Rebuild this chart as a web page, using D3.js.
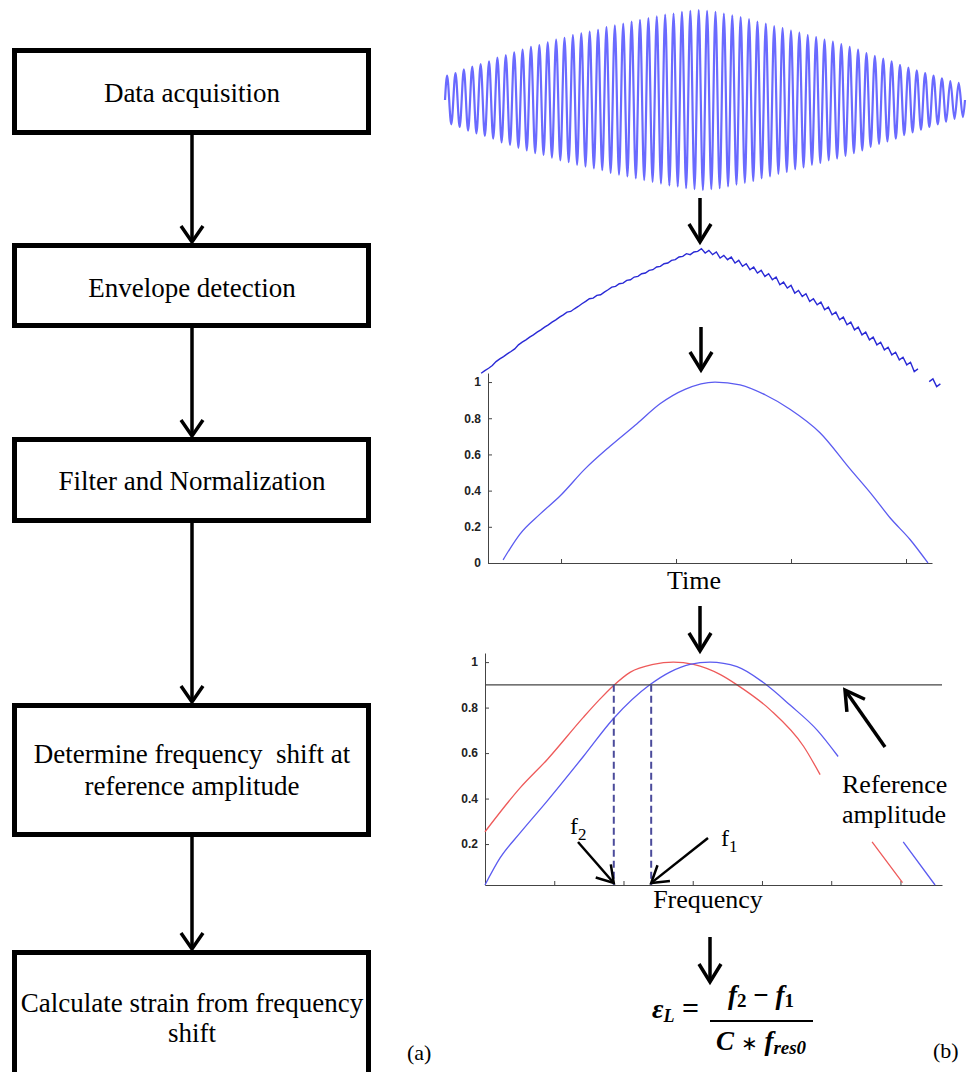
<!DOCTYPE html>
<html>
<head>
<meta charset="utf-8">
<script src="https://cdn.jsdelivr.net/npm/d3@7"></script>
<style>
  body { margin: 0; background: #fff; }
  svg { display: block; }
</style>
</head>
<body>
<div id="area"></div>
<script>
// ---- data -------------------------------------------------------------
var steps = [
  ["Data acquisition"],
  ["Envelope detection"],
  ["Filter and Normalization"],
  ["Determine frequency  shift at", "reference amplitude"],
  ["Calculate strain from frequency", "shift"]
];

// raw sensor signal: peak amplitude of each carrier cycle (normalised)
var carrierPeaks = [
  0.27, 0.30, 0.34, 0.37, 0.40, 0.43, 0.47, 0.50, 0.53, 0.56,
  0.59, 0.61, 0.64, 0.67, 0.69, 0.72, 0.74, 0.76, 0.78, 0.81,
  0.83, 0.85, 0.87, 0.89, 0.91, 0.93, 0.95, 0.96, 0.98, 0.99,
  1.00, 0.99, 0.98, 0.96, 0.94, 0.92, 0.90, 0.87, 0.85, 0.82,
  0.80, 0.77, 0.75, 0.72, 0.70, 0.67, 0.65, 0.62, 0.59, 0.56,
  0.52, 0.49, 0.46, 0.43, 0.39, 0.36, 0.33, 0.30, 0.27, 0.24,
  0.21, 0.19
];

// envelope detector output, one level per cycle (null = break in trace)
var envelopeLevel = [
  0.27, 0.30, 0.34, 0.37, 0.40, 0.44, 0.47, 0.50, 0.53, 0.56,
  0.59, 0.62, 0.64, 0.67, 0.70, 0.72, 0.74, 0.77, 0.79, 0.81,
  0.83, 0.85, 0.87, 0.89, 0.91, 0.93, 0.95, 0.97, 0.98, 1.00,
  0.99, 0.98, 0.96, 0.95, 0.93, 0.91, 0.89, 0.87, 0.85, 0.83,
  0.80, 0.78, 0.75, 0.73, 0.70, 0.68, 0.65, 0.62, 0.59, 0.56,
  0.53, 0.50, 0.47, 0.44, 0.41, 0.38, 0.35, 0.32, 0.28, null,
  0.22, 0.19
];
var rippleDepth = 0.008;

// filtered + normalised envelope
var filtTime = [496, 557, 643, 817, 991, 1209, 1426, 1661, 1861, 2078,
                2339, 2557, 2774, 2991, 3252, 3513, 3713, 3861, 4035, 4191];
var filtAmp  = [0.017, 0.08, 0.16, 0.27, 0.37, 0.52, 0.645, 0.77, 0.88, 0.96,
                1.00, 0.985, 0.93, 0.85, 0.72, 0.52, 0.37, 0.25, 0.13, 0.0];
var timeTicks = [1000, 2000, 3000, 4000];
var timeAmpTicks = [0, 0.2, 0.4, 0.6, 0.8, 1];

// frequency response: blue = reference (f1), red = strained (f2)
var freqBlue = [0, 0.22, 0.51, 0.90, 1.42, 1.85, 2.38, 2.67, 2.96, 3.25,
                3.64, 4.02, 4.41, 4.80, 5.10, 5.60, 6.04, 6.50];
var ampBlue  = [0.02, 0.14, 0.25, 0.39, 0.585, 0.75, 0.90, 0.956, 0.99, 1.00,
                0.98, 0.91, 0.81, 0.70, 0.585, null, 0.21, 0.02];
var freqRed  = [0, 0.51, 0.90, 1.42, 1.66, 1.85, 2.10, 2.43, 2.72, 3.01,
                3.40, 3.64, 4.12, 4.60, 4.84, 5.20, 5.59, 6.03];
var ampRed   = [0.254, 0.448, 0.572, 0.757, 0.837, 0.895, 0.956, 0.99, 1.00, 0.99,
                0.945, 0.90, 0.79, 0.63, 0.505, null, 0.21, 0.03];
var freqTicks = [1, 2, 3, 4, 5, 6];
var freqAmpTicks = [0.2, 0.4, 0.6, 0.8, 1];
var refAmplitude = 0.9;
var shiftFreqs = [1.86, 2.40];   // f2, f1 at the reference amplitude

// ---- drawing ----------------------------------------------------------
var svg = d3.select("#area").append("svg")
  .attr("width", 967)
  .attr("height", 1072);

var serif = "'Liberation Serif', 'Times New Roman', serif";

function arrow(g, x1, y1, x2, y2, w, head, half) {
  var dx = x2 - x1, dy = y2 - y1, len = Math.sqrt(dx * dx + dy * dy);
  var ux = dx / len, uy = dy / len;
  var bx = x2 - ux * head, by = y2 - uy * head;
  g.append("line")
    .attr("x1", x1).attr("y1", y1).attr("x2", x2 - ux * 1).attr("y2", y2 - uy * 1)
    .attr("stroke", "#000").attr("stroke-width", w);
  g.append("path")
    .attr("d", d3.line()([[bx - uy * half, by + ux * half], [x2, y2], [bx + uy * half, by - ux * half]]))
    .attr("fill", "none")
    .attr("stroke", "#000")
    .attr("stroke-width", w)
    .attr("stroke-linejoin", "miter");
}

// (a) flowchart
var boxTop = [48, 243, 437, 703, 950],
  boxBottom = [135, 328, 523, 837, 1110],
  textBase = [[102], [297], [490], [763, 795], [1012, 1042]];
var flow = svg.append("g");

flow.selectAll("rect")
  .data(steps)
  .enter()
  .append("rect")
  .attr("x", 14.5)
  .attr("y", function (d, i) { return boxTop[i] + 2.5; })
  .attr("width", 354)
  .attr("height", function (d, i) { return boxBottom[i] - boxTop[i] - 5; })
  .attr("fill", "none")
  .attr("stroke", "#000")
  .attr("stroke-width", 5);

steps.forEach(function (lines, i) {
  lines.forEach(function (t, j) {
    flow.append("text")
      .attr("x", 192)
      .attr("y", textBase[i][j])
      .attr("text-anchor", "middle")
      .style("font-family", serif)
      .style("font-size", "27px")
      .style("white-space", "pre")
      .text(t);
  });
  if (i < steps.length - 1) {
    arrow(flow, 192, boxBottom[i], 192, boxTop[i + 1] - 1, 3.5, 16, 11);
  }
});

flow.append("text")
  .attr("x", 407).attr("y", 1060)
  .style("font-family", serif).style("font-size", "22px")
  .text("(a)");

// (b) processing chain
var right = svg.append("g");

// raw signal
var xRaw = d3.scaleLinear().domain([0, carrierPeaks.length]).range([445, 965]);
var yRaw = d3.scaleLinear().domain([-1, 1]).range([190, 10]);
var rawPts = [[0, 0]];
carrierPeaks.forEach(function (a, i) {
  rawPts.push([i + 0.25, a]);
  rawPts.push([i + 0.75, -a]);
});
rawPts.push([carrierPeaks.length, 0]);
right.append("path")
  .attr("d", d3.line()
    .x(function (d) { return xRaw(d[0]); })
    .y(function (d) { return yRaw(d[1]); })
    .curve(d3.curveMonotoneX)(rawPts))
  .attr("fill", "none")
  .attr("stroke", "#6a6aff")
  .attr("stroke-width", 2.2);

arrow(right, 700, 198, 700, 242, 3.5, 18, 11);

// envelope
var xEnv = d3.scaleLinear().domain([0, envelopeLevel.length]).range([480, 943]);
var yEnv = d3.scaleLinear().domain([0, 1]).range([417, 250]);
var envPts = [];
envelopeLevel.forEach(function (v, i) {
  if (v === null) { envPts.push([i + 0.5, null]); return; }
  envPts.push([i + 0.15, v - rippleDepth]);
  envPts.push([i + 0.65, v + rippleDepth]);
});
right.append("path")
  .attr("d", d3.line()
    .defined(function (d) { return d[1] !== null; })
    .x(function (d) { return xEnv(d[0]); })
    .y(function (d) { return yEnv(d[1]); })(envPts))
  .attr("fill", "none")
  .attr("stroke", "#2a2ad6")
  .attr("stroke-width", 1.4);

arrow(right, 701, 327, 701, 370, 3.5, 18, 11);

// filtered / normalised plot
var xT = d3.scaleLinear().domain([365, 4226]).range([488, 932]);
var yT = d3.scaleLinear().domain([0, 1.05]).range([563, 373]);

function styleAxis(g) {
  g.select(".domain").attr("stroke", "#444");
  g.selectAll(".tick line").attr("stroke", "#444");
  g.selectAll(".tick text")
    .attr("fill", "#222")
    .style("font-family", "'Liberation Sans', Arial, sans-serif")
    .style("font-size", "12px")
    .style("font-weight", "bold");
}

right.append("g")
  .attr("transform", "translate(0,563)")
  .call(d3.axisBottom(xT).tickValues(timeTicks).tickSizeInner(-4).tickSizeOuter(0).tickFormat(""))
  .call(styleAxis);
right.append("g")
  .attr("transform", "translate(488,0)")
  .call(d3.axisLeft(yT).tickValues(timeAmpTicks).tickSizeInner(-4).tickSizeOuter(0).tickPadding(7)
    .tickFormat(function (d) { return String(d); }))
  .call(styleAxis);

right.append("path")
  .attr("d", d3.line()
    .x(function (d, i) { return xT(filtTime[i]); })
    .y(function (d) { return yT(d); })
    .curve(d3.curveMonotoneX)(filtAmp))
  .attr("fill", "none")
  .attr("stroke", "#5b5bf0")
  .attr("stroke-width", 1.3);

right.append("text")
  .attr("x", 694).attr("y", 589)
  .attr("text-anchor", "middle")
  .style("font-family", serif).style("font-size", "26px")
  .text("Time");

arrow(right, 700, 606, 700, 651, 3.5, 18, 11);

// frequency plot
var xF = d3.scaleLinear().domain([0, 6.6]).range([485, 942]);
var yF = d3.scaleLinear().domain([0.02, 1.04]).range([885, 653]);

right.append("g")
  .attr("transform", "translate(0,885)")
  .call(d3.axisBottom(xF).tickValues(freqTicks).tickSizeInner(-4).tickSizeOuter(0).tickFormat(""))
  .call(styleAxis);
right.append("g")
  .attr("transform", "translate(485,0)")
  .call(d3.axisLeft(yF).tickValues(freqAmpTicks).tickSizeInner(-4).tickSizeOuter(0).tickPadding(7)
    .tickFormat(function (d) { return String(d); }))
  .call(styleAxis);

var freqLine = function (xs) {
  return d3.line()
    .defined(function (d) { return d !== null; })
    .x(function (d, i) { return xF(xs[i]); })
    .y(function (d) { return yF(d); })
    .curve(d3.curveMonotoneX);
};
right.append("path")
  .attr("d", freqLine(freqRed)(ampRed))
  .attr("fill", "none").attr("stroke", "#ee5a5a").attr("stroke-width", 1.3);
right.append("path")
  .attr("d", freqLine(freqBlue)(ampBlue))
  .attr("fill", "none").attr("stroke", "#5b5bf0").attr("stroke-width", 1.3);

// reference amplitude line
right.append("line")
  .attr("x1", xF(0)).attr("x2", xF(6.6))
  .attr("y1", yF(refAmplitude)).attr("y2", yF(refAmplitude))
  .attr("stroke", "#444").attr("stroke-width", 1.3);

right.selectAll(".shift")
  .data(shiftFreqs)
  .enter()
  .append("line")
  .attr("class", "shift")
  .attr("x1", function (d) { return xF(d); })
  .attr("x2", function (d) { return xF(d); })
  .attr("y1", yF(refAmplitude))
  .attr("y2", 885)
  .attr("stroke", "#4b4b9b")
  .attr("stroke-width", 2)
  .attr("stroke-dasharray", "7,4");

// f labels with arrows
function fLabel(x, y, sub) {
  var t = right.append("text")
    .attr("x", x).attr("y", y)
    .style("font-family", serif).style("font-size", "24px");
  t.append("tspan").text("f");
  t.append("tspan").attr("dy", 6).style("font-size", "17px").text(sub);
}
fLabel(570, 834, "2");
fLabel(721, 846, "1");
arrow(right, 578, 842, xF(shiftFreqs[0]), 883, 2.5, 16, 10);
arrow(right, 708, 838, xF(shiftFreqs[1]), 883, 2.5, 16, 10);

right.append("text")
  .attr("x", 842).attr("y", 793)
  .style("font-family", serif).style("font-size", "26px")
  .text("Reference");
right.append("text")
  .attr("x", 842).attr("y", 823)
  .style("font-family", serif).style("font-size", "26px")
  .text("amplitude");
arrow(right, 885, 747, 845, 690, 3.5, 19, 11);

right.append("text")
  .attr("x", 708).attr("y", 908)
  .attr("text-anchor", "middle")
  .style("font-family", serif).style("font-size", "26px")
  .text("Frequency");

arrow(right, 710, 937, 710, 982, 3.5, 18, 11);

// strain formula
var fm = right.append("g")
  .style("font-family", serif)
  .style("font-weight", "bold");
var eps = fm.append("text").attr("x", 652).attr("y", 1018).style("font-size", "28px").style("font-style", "italic");
eps.append("tspan").text("ε");
eps.append("tspan").attr("dy", 4).style("font-size", "18px").text("L");
fm.append("text").attr("x", 682).attr("y", 1018).style("font-size", "30px").text("=");
var num = fm.append("text").attr("x", 761).attr("y", 1004).attr("text-anchor", "middle").style("font-size", "27px");
num.append("tspan").style("font-style", "italic").text("f");
num.append("tspan").attr("dy", 3).style("font-size", "19px").text("2");
num.append("tspan").attr("dy", -3).text(" − ");
num.append("tspan").style("font-style", "italic").text("f");
num.append("tspan").attr("dy", 3).style("font-size", "19px").text("1");
fm.append("line")
  .attr("x1", 710).attr("x2", 813).attr("y1", 1021).attr("y2", 1021)
  .attr("stroke", "#000").attr("stroke-width", 2);
var den = fm.append("text").attr("x", 761).attr("y", 1050).attr("text-anchor", "middle").style("font-size", "27px");
den.append("tspan").style("font-style", "italic").text("C ");
den.append("tspan").style("font-weight", "normal").style("font-size", "20px").text("∗");
den.append("tspan").style("font-style", "italic").text(" f");
den.append("tspan").attr("dy", 4).style("font-size", "19px").style("font-style", "italic").text("res0");

right.append("text")
  .attr("x", 933).attr("y", 1058)
  .style("font-family", serif).style("font-size", "22px")
  .text("(b)");
</script>
</body>
</html>
